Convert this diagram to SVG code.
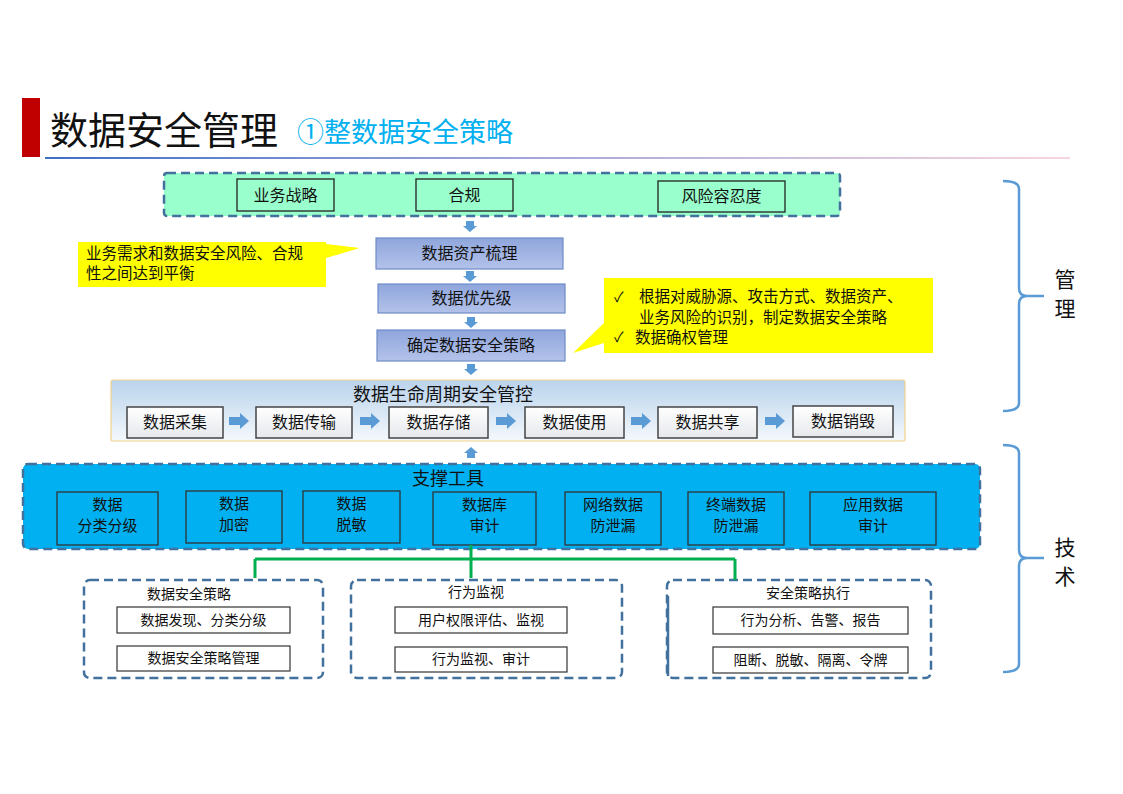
<svg xmlns="http://www.w3.org/2000/svg" width="1123" height="794" viewBox="0 0 1123 794">
<defs>
<linearGradient id="uline" x1="0" y1="0" x2="1" y2="0">
<stop offset="0" stop-color="#3F6FC6"/><stop offset="0.5" stop-color="#A9A9D9"/><stop offset="1" stop-color="#F7D6DE"/>
</linearGradient>
<linearGradient id="purp" x1="0" y1="0" x2="0" y2="1">
<stop offset="0" stop-color="#8FA6DC"/><stop offset="1" stop-color="#B3C2EA"/>
</linearGradient>
<linearGradient id="life" x1="0" y1="0" x2="0" y2="1">
<stop offset="0" stop-color="#B9D3EC"/><stop offset="1" stop-color="#F4F8FC"/>
</linearGradient>
<linearGradient id="lbox" x1="0" y1="0" x2="0" y2="1">
<stop offset="0" stop-color="#FFFFFF"/><stop offset="1" stop-color="#E6E8EC"/>
</linearGradient>
<path id="dn" d="M-4,0 H4 V5 H7 L0,11 L-7,5 H-4 Z"/>
<path id="rt" d="M-10,-4 H1 V-8 L10,0 L1,8 V4 H-10 Z"/>
</defs>
<style>
text{font-family:"Microsoft YaHei","Noto Sans CJK SC","Noto Sans",sans-serif;fill:#111;}
.t16{font-size:16px;}
.t15{font-size:15px;}
.t14{font-size:14px;}
.c{text-anchor:middle;}
.gbox{fill:#99FFCC;stroke:#222;stroke-width:1.3;}
.pbox{fill:url(#purp);stroke:#6F8BC9;stroke-width:1.2;}
.lbox{fill:url(#lbox);stroke:#444;stroke-width:1.5;}
.tbox{fill:#00B0F0;stroke:#333;stroke-width:1.3;}
.dash{stroke:#41719C;stroke-width:2.5;stroke-dasharray:9 5;}
.wbox{fill:#fff;stroke:#333;stroke-width:1.2;}
.arr{fill:#5B9BD5;}
.brace{fill:none;stroke:#5B9BD5;stroke-width:2.5;}
.green{stroke:#00B050;stroke-width:3;fill:none;}
.big{font-size:21px;}
</style>

<g id="title">
<rect x="22" y="98" width="18" height="59" fill="#C00000"/>
<text x="50" y="144" style="font-size:38px">数据安全管理</text>
<text x="297" y="142" style="font-size:27px;fill:#00B0F0">①整数据安全策略</text>
<rect x="45" y="157" width="1025" height="2" fill="url(#uline)"/>
</g>

<g id="drivers">
<rect x="164" y="173" width="676" height="43" rx="3" fill="#99FFCC" class="dash"/>
<rect x="237" y="179" width="97" height="32" class="gbox"/>
<text x="285.5" y="201" class="t16 c">业务战略</text>
<rect x="416" y="179" width="97" height="32" class="gbox"/>
<text x="464.5" y="201" class="t16 c">合规</text>
<rect x="658" y="181" width="127" height="31" class="gbox"/>
<text x="721.5" y="202" class="t16 c">风险容忍度</text>
</g>

<g id="callout-left">
<path d="M78,242 H326 V244 L360,248 L326,258 V287 H78 Z" fill="#FFFF00"/>
<text x="86" y="259" style="font-size:15.5px">业务需求和数据安全风险、合规</text>
<text x="86" y="279" style="font-size:15.5px">性之间达到平衡</text>
</g>

<g id="asset">
<rect x="376" y="238" width="187" height="31" class="pbox"/>
<text x="469.5" y="259" class="t16 c">数据资产梳理</text>
</g>
<g id="priority">
<rect x="378" y="284" width="187" height="29" class="pbox"/>
<text x="471.5" y="304" class="t16 c">数据优先级</text>
</g>
<g id="policy">
<rect x="377" y="330" width="188" height="31" class="pbox"/>
<text x="471" y="351" class="t16 c">确定数据安全策略</text>
</g>

<g id="callout-right">
<path d="M604,278 H933 V353 H604 V343 L573,353 L604,323 Z" fill="#FFFF00"/>
<text x="614" y="302" class="t14">✓</text>
<text x="639" y="302" style="font-size:15.5px">根据对威胁源、攻击方式、数据资产、</text>
<text x="639" y="323" style="font-size:15.5px">业务风险的识别，制定数据安全策略</text>
<text x="614" y="342" class="t14">✓</text>
<text x="635" y="343" style="font-size:15.5px">数据确权管理</text>
</g>

<g id="lifecycle">
<rect x="111" y="380" width="794" height="61" rx="2" fill="url(#life)" stroke="#F2D38C" stroke-width="1.2"/>
<text x="443" y="401" class="c" style="font-size:18px">数据生命周期安全管控</text>
<rect x="127" y="407" width="96" height="31" class="lbox"/>
<text x="175" y="428" class="t16 c">数据采集</text>
<rect x="256" y="407" width="96" height="31" class="lbox"/>
<text x="304" y="428" class="t16 c">数据传输</text>
<rect x="389" y="407" width="99" height="31" class="lbox"/>
<text x="438.5" y="428" class="t16 c">数据存储</text>
<rect x="525" y="407" width="99" height="31" class="lbox"/>
<text x="574.5" y="428" class="t16 c">数据使用</text>
<rect x="658" y="407" width="99" height="31" class="lbox"/>
<text x="707.5" y="428" class="t16 c">数据共享</text>
<rect x="793" y="406" width="100" height="31" class="lbox"/>
<text x="843" y="427" class="t16 c">数据销毁</text>
<use href="#rt" x="239" y="421" class="arr"/>
<use href="#rt" x="370" y="421" class="arr"/>
<use href="#rt" x="506" y="421" class="arr"/>
<use href="#rt" x="641" y="421" class="arr"/>
<use href="#rt" x="775" y="421" class="arr"/>
</g>

<g id="tools">
<rect x="23" y="464" width="957" height="85" rx="5" fill="#00B0F0" class="dash"/>
<text x="448" y="485" class="c" style="font-size:18px">支撑工具</text>
<rect x="57" y="492" width="101" height="53" class="tbox"/>
<text x="107.5" y="510" class="t15 c">数据</text>
<text x="107.5" y="531" class="t15 c">分类分级</text>
<rect x="186" y="491" width="96" height="52" class="tbox"/>
<text x="234" y="509" class="t15 c">数据</text>
<text x="234" y="530" class="t15 c">加密</text>
<rect x="303" y="491" width="97" height="52" class="tbox"/>
<text x="351.5" y="509" class="t15 c">数据</text>
<text x="351.5" y="530" class="t15 c">脱敏</text>
<rect x="433" y="492" width="103" height="53" class="tbox"/>
<text x="484.5" y="510" class="t15 c">数据库</text>
<text x="484.5" y="531" class="t15 c">审计</text>
<rect x="565" y="492" width="96" height="53" class="tbox"/>
<text x="613" y="510" class="t15 c">网络数据</text>
<text x="613" y="531" class="t15 c">防泄漏</text>
<rect x="688" y="492" width="96" height="53" class="tbox"/>
<text x="736" y="510" class="t15 c">终端数据</text>
<text x="736" y="531" class="t15 c">防泄漏</text>
<rect x="810" y="492" width="126" height="53" class="tbox"/>
<text x="873" y="510" class="t15 c">应用数据</text>
<text x="873" y="531" class="t15 c">审计</text>
</g>

<g id="strategy-box">
<rect x="84" y="580" width="239" height="98" rx="6" fill="#fff" class="dash"/>
<text x="189" y="599" class="t14 c">数据安全策略</text>
<rect x="117" y="607" width="173" height="26" class="wbox"/>
<text x="203.5" y="625" class="t14 c">数据发现、分类分级</text>
<rect x="117" y="646" width="173" height="25" class="wbox"/>
<text x="203.5" y="663" class="t14 c">数据安全策略管理</text>
</g>

<g id="monitor-box">
<rect x="351" y="580" width="271" height="98" rx="6" fill="#fff" class="dash"/>
<text x="476" y="597" class="t14 c">行为监视</text>
<rect x="395" y="607" width="172" height="26" class="wbox"/>
<text x="481" y="625" class="t14 c">用户权限评估、监视</text>
<rect x="395" y="647" width="172" height="25" class="wbox"/>
<text x="481" y="664" class="t14 c">行为监视、审计</text>
</g>

<g id="exec-box">
<rect x="667" y="580" width="264" height="98" rx="6" fill="#fff" class="dash"/>
<line x1="668" y1="596" x2="668" y2="676" stroke="#41719C" stroke-width="2.5"/>
<text x="808" y="598" class="t14 c">安全策略执行</text>
<rect x="713" y="607" width="195" height="27" class="wbox"/>
<text x="810.5" y="625" class="t14 c">行为分析、告警、报告</text>
<rect x="713" y="647" width="195" height="26" class="wbox"/>
<text x="810.5" y="665" class="t14 c">阻断、脱敏、隔离、令牌</text>
</g>

<g id="connectors">
<use href="#dn" x="470" y="221" class="arr"/>
<use href="#dn" x="470" y="271" class="arr"/>
<use href="#dn" x="471" y="317" class="arr"/>
<use href="#dn" x="471" y="364" class="arr"/>
<use href="#dn" x="471" y="446" class="arr" transform="rotate(180 471 452)"/>
<path class="green" d="M471,545 V578 M255,559 H735 M255,559 V578 M735,559 V580"/>
</g>

<g id="braces">
<path class="brace" d="M1003,181 Q1019,181 1019,189 V288 Q1019,296 1027,296 H1044 M1027,296 Q1019,296 1019,304 V403 Q1019,411 1003,411"/>
<text x="1065" y="287" class="c big">管</text>
<text x="1065" y="316" class="c big">理</text>
<path class="brace" d="M1003,445 Q1019,445 1019,453 V550 Q1019,558 1027,558 H1044 M1027,558 Q1019,558 1019,566 V664 Q1019,672 1003,672"/>
<text x="1065" y="555" class="c big">技</text>
<text x="1065" y="584" class="c big">术</text>
</g>
</svg>
